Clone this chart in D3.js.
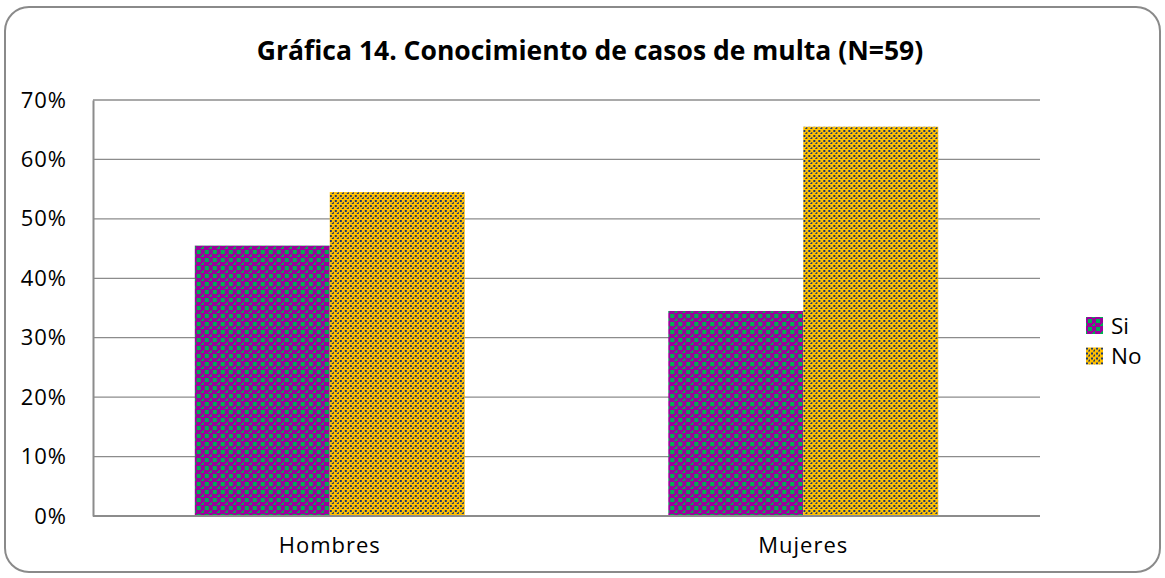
<!DOCTYPE html>
<html><head><meta charset="utf-8">
<script src="https://cdn.jsdelivr.net/npm/d3@7"></script>
<style>body{margin:0;background:#fff;} svg{display:block;}</style>
</head><body>
<svg id="c" width="1165" height="578"></svg>
<script>
(function(){
const title = "Gráfica 14. Conocimiento de casos de multa (N=59)";
const categories = ["Hombres", "Mujeres"];
const seriesNames = ["Si", "No"];
const siValues = [0.455, 0.345];
const noValues = [0.545, 0.655];
const yTicks = [0, 0.1, 0.2, 0.3, 0.4, 0.5, 0.6, 0.7];

const svg = d3.select("#c");
const font = "'Open Sans', 'Noto Sans', sans-serif";
const defs = svg.append("defs");
const p1 = defs.append("pattern").attr("id","pSi").attr("patternUnits","userSpaceOnUse").attr("width",8).attr("height",8);
p1.append("rect").attr("width",8).attr("height",8).attr("fill","#9c009c");
[[2,2,4,4],[6,0,2,1],[0,6,1,2],[7,7,1,1],[0,0,1,1]].forEach(r=>p1.append("rect").attr("x",r[0]).attr("y",r[1]).attr("width",r[2]).attr("height",r[3]).attr("fill","#00b050"));
const p2 = defs.append("pattern").attr("id","pNo").attr("patternUnits","userSpaceOnUse").attr("width",5).attr("height",5);
p2.append("rect").attr("width",5).attr("height",5).attr("fill","#ffc000");
[[0,0,2,2],[3,2,1,1],[2,3,2,1]].forEach(r=>p2.append("rect").attr("x",r[0]).attr("y",r[1]).attr("width",r[2]).attr("height",r[3]).attr("fill","#1f3a6e"));
const fills = {Si:"url(#pSi)", No:"url(#pNo)"};

svg.append("rect").attr("x",5).attr("y",7).attr("width",1155).attr("height",565).attr("rx",24)
  .attr("fill","#fff").attr("stroke","#8a8a8a").attr("stroke-width",2);

const pL=93, pR=1040, pT=100, pB=516;
const y = d3.scaleLinear().domain([0,0.7]).range([pB, pT]);
const x0 = d3.scaleBand().domain(categories).range([pL,pR]).paddingInner(0.43).paddingOuter(0.215);
const x1 = d3.scaleBand().domain(seriesNames).range([0,x0.bandwidth()]);

svg.append("g").selectAll("line").data(yTicks.filter(d=>d>0)).join("line")
  .attr("x1",pL).attr("x2",pR).attr("y1",d=>y(d)).attr("y2",d=>y(d))
  .attr("stroke","#8c8c8c").attr("stroke-width",1.3);

const data = categories.map((c,i)=>({cat:c, vals:[{s:"Si",v:siValues[i]},{s:"No",v:noValues[i]}]}));
svg.append("g").selectAll("g").data(data).join("g")
  .attr("transform",d=>`translate(${x0(d.cat)},0)`)
  .selectAll("rect").data(d=>d.vals).join("rect")
  .attr("x",d=>x1(d.s)).attr("width",x1.bandwidth())
  .attr("y",d=>y(d.v)).attr("height",d=>pB-y(d.v))
  .attr("fill",d=>fills[d.s]);

const yAxis = d3.axisLeft(y).tickValues(yTicks).tickFormat(d3.format(".0%")).tickSize(0).tickPadding(26);
const ga = svg.append("g").attr("transform",`translate(${pL},0)`).call(yAxis);
ga.select(".domain").attr("stroke","#8c8c8c").attr("stroke-width",2);
ga.selectAll("text").attr("font-family",font).attr("font-size",22).attr("letter-spacing","1px").attr("fill","#000");
const xAxis = d3.axisBottom(x0).tickSize(0).tickPadding(21);
const gx = svg.append("g").attr("transform",`translate(0,${pB})`).call(xAxis);
gx.select(".domain").attr("d",`M${pL},0H${pR}`).attr("stroke","#8c8c8c").attr("stroke-width",2);
gx.selectAll("text").attr("font-family",font).attr("font-size",22).attr("letter-spacing","1px").attr("fill","#000");

svg.append("text").attr("x",590).attr("y",60).attr("text-anchor","middle")
  .attr("font-family",font).attr("font-weight","bold").attr("font-size",26.5).attr("fill","#000").text(title);

const lg = svg.append("g").selectAll("g").data(seriesNames).join("g")
  .attr("transform",(d,i)=>`translate(1086,${317+i*30.5})`);
lg.append("rect").attr("width",17).attr("height",17).attr("fill",d=>fills[d]);
lg.append("text").attr("x",25).attr("y",9).attr("dy","0.35em").attr("font-family",font).attr("font-size",22.5).attr("fill","#000").text(d=>d);
})();
</script>
</body></html>
